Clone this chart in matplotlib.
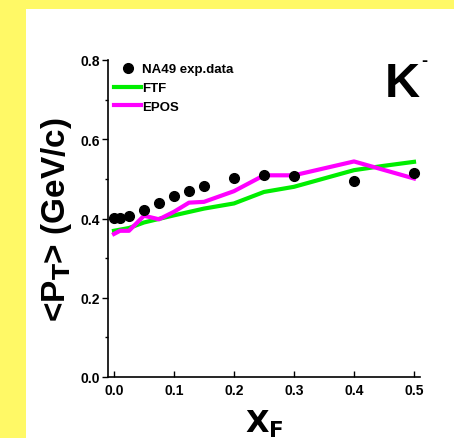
import matplotlib
matplotlib.use("Agg")
import matplotlib.pyplot as plt
from matplotlib.ticker import MultipleLocator

plt.rcParams["font.family"] = ["Liberation Sans Narrow", "Liberation Sans", "DejaVu Sans"]
plt.rcParams["font.weight"] = "bold"

# NA49 experimental data
xf_data = [0.0, 0.01, 0.025, 0.05, 0.075, 0.1, 0.125, 0.15, 0.2, 0.25, 0.3, 0.4, 0.5]
pt_data = [0.402, 0.402, 0.407, 0.422, 0.439, 0.456, 0.470, 0.483, 0.501, 0.509, 0.506, 0.494, 0.515]

# FTF model
xf_ftf = [0.0, 0.025, 0.05, 0.1, 0.15, 0.2, 0.25, 0.3, 0.35, 0.4, 0.45, 0.5]
pt_ftf = [0.369, 0.376, 0.390, 0.408, 0.425, 0.438, 0.467, 0.480, 0.501, 0.522, 0.533, 0.543]

# EPOS model
xf_epos = [0.0, 0.01, 0.025, 0.05, 0.075, 0.1, 0.125, 0.15, 0.2, 0.25, 0.3, 0.4, 0.5]
pt_epos = [0.361, 0.369, 0.369, 0.407, 0.398, 0.417, 0.440, 0.442, 0.469, 0.509, 0.509, 0.544, 0.501]

W, H = 454, 439
fig = plt.figure(figsize=(W / 100, H / 100), dpi=100)
fig.patch.set_facecolor("#FFF966")
# white panel
panel = fig.add_axes([26 / W, 0, 1 - 26 / W, 1 - 10 / H])
panel.set_facecolor("white")
panel.set_xticks([])
panel.set_yticks([])
for s in panel.spines.values():
    s.set_visible(False)

ax = fig.add_axes([108 / W, 1 - 378 / H, (420 - 108) / W, (378 - 61) / H])
ax.set_facecolor("none")

ax.plot(xf_ftf, pt_ftf, color="#00EE00", lw=3, label="FTF")
ax.plot(xf_epos, pt_epos, color="#FF00FF", lw=3, label="EPOS")
ax.plot(xf_data, pt_data, "o", color="black", ms=7, label="NA49 exp.data", zorder=5)

ax.set_xlim(-0.01, 0.51)
ax.set_ylim(0, 0.8)
ax.set_xticks([0.0, 0.1, 0.2, 0.3, 0.4, 0.5])
ax.set_yticks([0.0, 0.2, 0.4, 0.6, 0.8])
ax.yaxis.set_minor_locator(MultipleLocator(0.1))
ax.tick_params(axis="x", direction="in", length=4, width=1, labelsize=10, pad=4)
ax.tick_params(axis="y", direction="out", length=4, width=1, labelsize=10, pad=2)
ax.tick_params(axis="y", which="minor", direction="out", length=2, width=1)
ax.xaxis.set_major_formatter(plt.FormatStrFormatter("%.1f"))
ax.yaxis.set_major_formatter(plt.FormatStrFormatter("%.1f"))
for s in ["top", "right"]:
    ax.spines[s].set_visible(False)
for s in ["left", "bottom"]:
    ax.spines[s].set_linewidth(1.2)

ax.set_xlabel(r"$\mathbf{X_F}$", fontsize=22, labelpad=8)
ax.set_ylabel(r"<P$_\mathbf{T}$> (GeV/c)", fontsize=24, fontweight="bold")
ax.yaxis.set_label_coords(-0.11, 0.5)

# K- label
fig.text(385 / W, 1 - 97 / H, "K", ha="left", va="baseline",
         fontsize=35, fontweight="bold", family=["Liberation Sans", "DejaVu Sans"])
fig.text(421 / W, 1 - 66 / H, "-", ha="left", va="baseline",
         fontsize=13, fontweight="bold", family=["Liberation Sans", "DejaVu Sans"])

handles, labels = ax.get_legend_handles_labels()
order = [2, 0, 1]
ax.legend([handles[i] for i in order], [labels[i] for i in order], loc="upper left",
          bbox_to_anchor=(-0.005, 1.015), frameon=False, fontsize=9.5, handlelength=2.0,
          handletextpad=0.1, labelspacing=0.5, borderaxespad=0.2)

fig.savefig("out.png", dpi=100, facecolor=fig.get_facecolor())
